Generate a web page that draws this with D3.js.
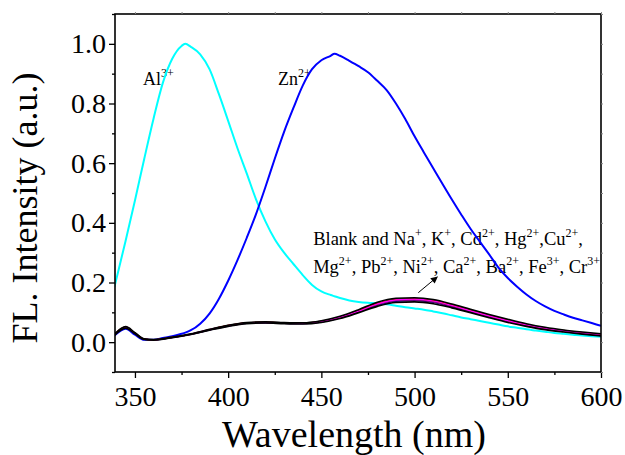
<!DOCTYPE html>
<html>
<head>
<meta charset="utf-8">
<script src="https://cdn.jsdelivr.net/npm/d3@7"></script>
<style>
  body { margin: 0; background: #fff; }
  text { font-family: "Liberation Serif", "Times New Roman", serif; fill: #000; }
</style>
</head>
<body>
<div id="chart"></div>
<script>
// data declaration
const w = 625;
const h = 455;

// wavelength grid (nm) for the Al3+ and Zn2+ spectra
const wavelengths = [339, 345, 350, 355, 360, 365, 370, 375, 377, 380, 385, 390, 395, 400, 405, 410, 415,
  420, 425, 430, 435, 440, 445, 450, 455, 457, 460, 465, 470, 475, 480, 485, 490, 495, 500, 505, 510,
  515, 520, 525, 530, 535, 540, 545, 550, 555, 560, 565, 570, 575, 580, 585, 590, 595, 600];

const alValues = [0.185, 0.34, 0.475, 0.615, 0.75, 0.87, 0.95, 0.993, 1.0, 0.99, 0.965, 0.915, 0.832,
  0.742, 0.65, 0.565, 0.478, 0.405, 0.345, 0.3, 0.262, 0.225, 0.192, 0.17, 0.158, 0.154, 0.148, 0.14,
  0.135, 0.132, 0.13, 0.127, 0.122, 0.117, 0.113, 0.109, 0.103, 0.097, 0.09, 0.083, 0.077, 0.071,
  0.065, 0.059, 0.053, 0.048, 0.043, 0.039, 0.035, 0.031, 0.028, 0.025, 0.022, 0.02, 0.018];

const znValues = [0.022, 0.045, 0.025, 0.008, 0.008, 0.014, 0.02, 0.028, 0.032, 0.04, 0.062, 0.096,
  0.145, 0.206, 0.275, 0.35, 0.43, 0.52, 0.615, 0.705, 0.785, 0.86, 0.915, 0.945, 0.96, 0.967, 0.96,
  0.943, 0.925, 0.905, 0.876, 0.845, 0.8, 0.748, 0.69, 0.636, 0.583, 0.53, 0.478, 0.428, 0.38,
  0.337, 0.294, 0.25, 0.215, 0.186, 0.16, 0.138, 0.12, 0.105, 0.093, 0.082, 0.073, 0.064, 0.055];

// coarser grid for the blank / non-responsive ions
const wlIons = [339, 345, 350, 355, 360, 370, 380, 390, 400, 410, 420, 430, 440, 450, 460, 470,
  480, 490, 500, 510, 520, 530, 540, 550, 560, 570, 580, 590, 600];

const blankValues = [0.027, 0.052, 0.032, 0.011, 0.009, 0.017, 0.028, 0.043, 0.057, 0.066, 0.068, 0.066, 0.065, 0.072, 0.087, 0.109, 0.134, 0.147, 0.149, 0.143, 0.128, 0.11, 0.093, 0.077, 0.062, 0.05, 0.041, 0.034, 0.028];
const naValues = [0.023, 0.047, 0.028, 0.009, 0.007, 0.015, 0.026, 0.04, 0.053, 0.062, 0.064, 0.062, 0.061, 0.066, 0.079, 0.099, 0.12, 0.133, 0.135, 0.129, 0.115, 0.099, 0.082, 0.066, 0.053, 0.042, 0.034, 0.027, 0.021];
const kValues = [0.026, 0.051, 0.031, 0.01, 0.008, 0.016, 0.027, 0.042, 0.056, 0.065, 0.067, 0.065, 0.064, 0.07, 0.085, 0.106, 0.13, 0.144, 0.146, 0.14, 0.125, 0.107, 0.09, 0.074, 0.059, 0.048, 0.039, 0.032, 0.026];
const cdValues = [0.024, 0.048, 0.029, 0.009, 0.007, 0.015, 0.026, 0.04, 0.054, 0.063, 0.065, 0.063, 0.062, 0.067, 0.081, 0.101, 0.123, 0.137, 0.139, 0.133, 0.118, 0.101, 0.084, 0.069, 0.055, 0.044, 0.035, 0.028, 0.022];
const hgValues = [0.024, 0.049, 0.029, 0.01, 0.008, 0.016, 0.026, 0.041, 0.054, 0.063, 0.065, 0.063, 0.062, 0.068, 0.082, 0.102, 0.125, 0.139, 0.141, 0.135, 0.12, 0.103, 0.086, 0.07, 0.056, 0.045, 0.036, 0.029, 0.023];
const cuValues = [0.025, 0.05, 0.03, 0.01, 0.008, 0.016, 0.027, 0.041, 0.055, 0.064, 0.066, 0.064, 0.063, 0.069, 0.083, 0.104, 0.127, 0.141, 0.143, 0.137, 0.122, 0.104, 0.087, 0.071, 0.057, 0.046, 0.037, 0.03, 0.024];
const mgValues = [0.026, 0.051, 0.03, 0.01, 0.008, 0.016, 0.027, 0.042, 0.056, 0.065, 0.067, 0.065, 0.064, 0.07, 0.084, 0.105, 0.129, 0.143, 0.145, 0.139, 0.124, 0.106, 0.089, 0.073, 0.058, 0.047, 0.038, 0.031, 0.025];
const pbValues = [0.025, 0.05, 0.03, 0.01, 0.008, 0.016, 0.027, 0.042, 0.055, 0.064, 0.066, 0.064, 0.063, 0.069, 0.084, 0.104, 0.128, 0.142, 0.144, 0.138, 0.123, 0.105, 0.088, 0.072, 0.058, 0.047, 0.038, 0.03, 0.024];

// cluster series in drawing order (black ones last, on top)
const ionSeries = [
  { name: "K+", values: kValues, color: "#202020", width: 1.4 },
  { name: "Cd2+", values: cdValues, color: "#000080", width: 1.2 },
  { name: "Cu2+", values: cuValues, color: "#808000", width: 1.2 },
  { name: "Hg2+", values: hgValues, color: "#800080", width: 1.2 },
  { name: "Mg2+", values: mgValues, color: "#ff0000", width: 1.2 },
  { name: "Pb2+", values: pbValues, color: "#ff00ff", width: 1.2 },
  { name: "Na+", values: naValues, color: "#000000", width: 1.6 },
  { name: "Blank", values: blankValues, color: "#000000", width: 1.6 }
];

// tick values
const xMajor = [350, 400, 450, 500, 550, 600];
const xMinor = [375, 425, 475, 525, 575];
const yMajor = [0.0, 0.2, 0.4, 0.6, 0.8, 1.0];
const yMinor = [-0.1, 0.1, 0.3, 0.5, 0.7, 0.9, 1.1];

// annotation texts: [normal, superscript]
const alLabel = [["Al", "3+"]];
const znLabel = [["Zn", "2+"]];
const ionLine1 = [["Blank and Na", "+"], [", K", "+"], [", Cd", "2+"], [", Hg", "2+"], [",Cu", "2+"], [",", ""]];
const ionLine2 = [["Mg", "2+"], [", Pb", "2+"], [", Ni", "2+"], [", Ca", "2+"], [", Ba", "2+"], [", Fe", "3+"], [", Cr", "3+"]];

// plot box
const pLeft = 115, pRight = 601, pTop = 14, pBottom = 372;

const svg = d3.select("#chart").append("svg").attr("width", w).attr("height", h);

// scales
const xScale = d3.scaleLinear().domain([339.3, 600]).range([pLeft, pRight]);
const yScale = d3.scaleLinear().domain([-0.1, 1.1]).range([pBottom, pTop]);

// clip for curves
svg.append("clipPath").attr("id", "clip")
  .append("rect").attr("x", pLeft).attr("y", pTop).attr("width", pRight - pLeft).attr("height", pBottom - pTop);

// rich text with superscripts
const richText = (x, y, parts, size, supSize) => {
  const t = svg.append("text").attr("x", x).attr("y", y).style("font-size", size + "px");
  parts.forEach(([base, sup]) => {
    t.append("tspan").attr("y", y).text(base);
    if (sup) t.append("tspan").attr("y", y - size * 0.42).style("font-size", supSize + "px").text(sup);
  });
  return t;
};

// annotations (under the curves like in the original)
richText(xScale(354.3), yScale(0.863), alLabel, 18, 12);
richText(xScale(426.8), yScale(0.863), znLabel, 18, 12);
richText(xScale(445.6), yScale(0.327), ionLine1, 18.5, 12);
richText(xScale(445.6), yScale(0.233), ionLine2, 18.5, 12);

// arrow
svg.append("defs").append("marker")
  .attr("id", "arrow").attr("viewBox", "0 0 10 10").attr("refX", 9).attr("refY", 5)
  .attr("markerWidth", 9).attr("markerHeight", 7).attr("markerUnits", "userSpaceOnUse")
  .attr("orient", "auto")
  .append("path").attr("d", "M0,0 L10,5 L0,10 Z").attr("fill", "#000");

svg.append("line")
  .attr("x1", xScale(502)).attr("y1", yScale(0.166))
  .attr("x2", xScale(512.2)).attr("y2", yScale(0.219))
  .attr("stroke", "#000").attr("stroke-width", 1)
  .attr("marker-end", "url(#arrow)");

// lines
const plot = svg.append("g").attr("clip-path", "url(#clip)");

const specLine = d3.line()
  .x(d => xScale(d[0]))
  .y(d => yScale(d[1]))
  .curve(d3.curveMonotoneX);

plot.append("path")
  .attr("d", specLine(d3.zip(wavelengths, alValues)))
  .attr("fill", "none").attr("stroke", "#00ffff").attr("stroke-width", 2);

plot.append("path")
  .attr("d", specLine(d3.zip(wavelengths, znValues)))
  .attr("fill", "none").attr("stroke", "#0000ff").attr("stroke-width", 2);

plot.selectAll(".ion")
  .data(ionSeries)
  .enter()
  .append("path")
  .attr("class", "ion")
  .attr("d", d => specLine(d3.zip(wlIons, d.values)))
  .attr("fill", "none")
  .attr("stroke", d => d.color)
  .attr("stroke-width", d => d.width);

// frame
svg.append("rect")
  .attr("x", pLeft).attr("y", pTop).attr("width", pRight - pLeft).attr("height", pBottom - pTop)
  .attr("fill", "none").attr("stroke", "#000").attr("stroke-width", 1.6);

// axes
const xAxis = d3.axisBottom(xScale).tickValues(xMajor).tickSize(6).tickPadding(8).tickFormat(d3.format("d"));
const xAxisMinor = d3.axisBottom(xScale).tickValues(xMinor).tickSize(3).tickFormat("");
const yAxis = d3.axisLeft(yScale).tickValues(yMajor).tickSize(6).tickPadding(3).tickFormat(d3.format(".1f"));
const yAxisMinor = d3.axisLeft(yScale).tickValues(yMinor).tickSize(3).tickFormat("");
const xTop = d3.axisTop(xScale).tickValues(xMajor.concat(xMinor)).tickSize(2).tickFormat("");
const yRight = d3.axisRight(yScale).tickValues(yMajor.concat(yMinor)).tickSize(2).tickFormat("");

const styleAxis = g => {
  g.select(".domain").remove();
  g.selectAll("line").attr("stroke", "#000").attr("stroke-width", 1.3);
  g.selectAll("text").style("font-size", "28px").attr("fill", "#000");
};

svg.append("g").attr("id", "x-axis").attr("transform", "translate(0," + pBottom + ")").call(xAxis).call(styleAxis);
svg.append("g").attr("transform", "translate(0," + pBottom + ")").call(xAxisMinor).call(styleAxis);
svg.append("g").attr("id", "y-axis").attr("transform", "translate(" + pLeft + ",0)").call(yAxis).call(styleAxis);
svg.append("g").attr("transform", "translate(" + pLeft + ",0)").call(yAxisMinor).call(styleAxis);
svg.append("g").attr("transform", "translate(0," + pTop + ")").call(xTop).call(styleAxis)
  .selectAll("line").attr("stroke", "#888").attr("stroke-width", 1);
svg.append("g").attr("transform", "translate(" + pRight + ",0)").call(yRight).call(styleAxis)
  .selectAll("line").attr("stroke", "#888").attr("stroke-width", 1);

// axis titles
svg.append("text")
  .attr("x", 354).attr("y", 447)
  .attr("text-anchor", "middle")
  .style("font-size", "38px")
  .text("Wavelength (nm)");

svg.append("text")
  .attr("transform", "translate(37,208) rotate(-90)")
  .attr("text-anchor", "middle")
  .style("font-size", "36px")
  .text("FL. Intensity (a.u.)");
</script>
</body>
</html>
